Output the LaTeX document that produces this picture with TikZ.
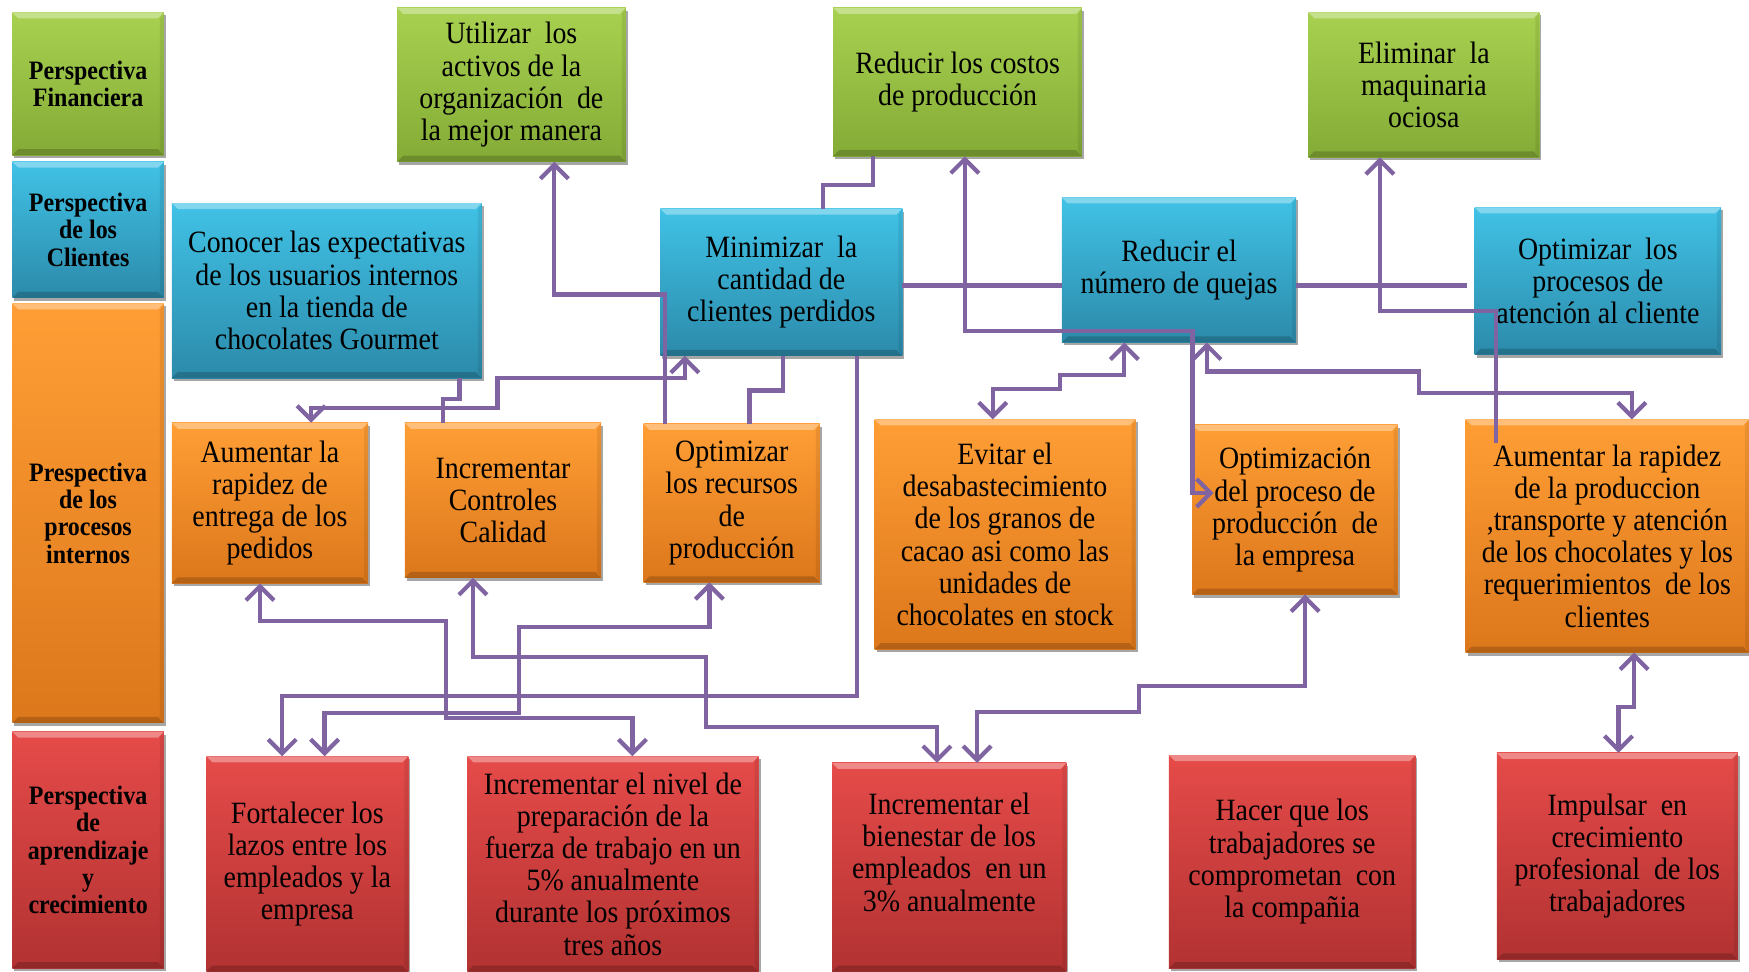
\documentclass[tikz,border=0pt]{standalone}
\usepackage{fontspec}
\setmainfont{Liberation Serif}[FakeStretch=0.9]
\usetikzlibrary{arrows.meta,calc,shadows}

\definecolor{gTop}{HTML}{A8D150}
\definecolor{gBot}{HTML}{84AB36}
\definecolor{bTop}{HTML}{40C2E6}
\definecolor{bBot}{HTML}{2C8AAA}
\definecolor{oTop}{HTML}{FF9E35}
\definecolor{oBot}{HTML}{DC771B}
\definecolor{rTop}{HTML}{E54B49}
\definecolor{rBot}{HTML}{B23232}
\definecolor{conn}{HTML}{8064A2}

% box from its corners: style, x1, y1, x2, y2, name
\newcommand\boxat[6]{\node[#1, minimum width={(#4-#2)*0.5577pt}, minimum height={(#5-#3)*0.5577pt}] (#6) at ({(#2+#4)/2},{(#3+#5)/2})}

\begin{document}
\begin{tikzpicture}[x=0.5577pt,y=-0.5577pt,
  card/.style 2 args={top color=#1, bottom color=#2, draw=none,
    inner sep=0pt, outer sep=0pt, align=center,
    font=\fontsize{15.5}{16.1}\selectfont,
    drop shadow={shadow xshift=1pt, shadow yshift=-1.5pt, opacity=0.35, fill=black},
    path picture={
      \fill[white,opacity=0.35] (path picture bounding box.north west) -- (path picture bounding box.north east)
        -- ([xshift=-3pt,yshift=-3pt]path picture bounding box.north east) -- ([xshift=3pt,yshift=-3pt]path picture bounding box.north west) -- cycle;
      \fill[black,opacity=0.18] (path picture bounding box.south west) -- (path picture bounding box.south east)
        -- ([xshift=-3pt,yshift=3pt]path picture bounding box.south east) -- ([xshift=3pt,yshift=3pt]path picture bounding box.south west) -- cycle;
      \fill[black,opacity=0.08] (path picture bounding box.north east) -- (path picture bounding box.south east)
        -- ([xshift=-2pt,yshift=3pt]path picture bounding box.south east) -- ([xshift=-2pt,yshift=-3pt]path picture bounding box.north east) -- cycle;
    }},
  gbox/.style={card={gTop}{gBot}},
  bbox/.style={card={bTop}{bBot}},
  obox/.style={card={oTop}{oBot}},
  rbox/.style={card={rTop}{rBot}},
  head/.style={font=\bfseries\fontsize{13.3}{13.7}\selectfont},
  txt/.style={inner sep=0pt, align=center, font=\fontsize{15.5}{16.1}\selectfont},
  con/.style={draw=conn, line width=2.1pt},
  arr/.style={con, -{Straight Barb[length=7pt,width=14pt]}},
  dbl/.style={con, {Straight Barb[length=7pt,width=14pt]}-{Straight Barb[length=7pt,width=14pt]}}
]
\fill[white] (0,0) rectangle (1568,871);
\useasboundingbox (0,0) rectangle (1568,871);

% perspective column
\boxat{gbox,head}{11}{11}{147}{139}{fin}{Perspectiva\\Financiera};
\boxat{bbox,head}{11}{145}{147}{267}{cli}{Perspectiva\\de los\\Clientes};
\boxat{obox,head}{11}{272}{147}{648}{pro}{Prespectiva\\de los\\procesos\\internos};
\boxat{rbox,head}{11}{656}{147}{868}{apr}{Perspectiva\\de\\aprendizaje\\y\\crecimiento};

% financial objectives
\boxat{gbox}{356}{7}{561}{145}{util}{Utilizar\ \ los\\activos de la\\organización\ \ de\\la mejor manera};
\boxat{gbox}{747}{7}{970}{140}{costos}{Reducir los costos\\de producción};
\boxat{gbox}{1173}{11}{1380}{141}{elim}{Eliminar\ \ la\\maquinaria\\ociosa};

% customer objectives
\boxat{bbox}{154}{182}{432}{339}{conocer}{Conocer las expectativas\\de los usuarios internos\\en la tienda de\\chocolates Gourmet};
\boxat{bbox}{592}{187}{809}{319}{minim}{Minimizar\ \ la\\cantidad de\\clientes perdidos};
\boxat{bbox}{952}{177}{1162}{307}{quejas}{Reducir el\\número de quejas};
\boxat{bbox}{1322}{186}{1543}{318}{optproc}{Optimizar\ \ los\\procesos de\\atención al cliente};

% internal process objectives
\boxat{obox}{154}{379}{330}{523}{entrega}{Aumentar la\\rapidez de\\entrega de los\\pedidos};
\boxat{obox}{363}{379}{539}{518}{control}{Incrementar\\Controles\\Calidad};
\boxat{obox}{577}{380}{735}{522}{recursos}{Optimizar\\los recursos\\de\\producción};
\boxat{obox}{784}{376}{1018}{582}{evitar}{Evitar el\\desabastecimiento\\de los granos de\\cacao asi como las\\unidades de\\chocolates en stock};
\boxat{obox}{1069}{381}{1253}{533}{optim}{Optimización\\del proceso de\\producción\ \ de\\la empresa};
\boxat{obox}{1314}{376}{1568}{585}{aprod}{Aumentar la rapidez\\de la produccion\\,transporte y atención\\de los chocolates y los\\requerimientos\ \ de los\\clientes};

% learning and growth objectives
\boxat{rbox}{185}{678}{366}{871}{fort}{Fortalecer los\\lazos entre los\\empleados y la\\empresa};
\boxat{rbox}{419}{678}{680}{871}{nivel}{Incrementar el nivel de\\preparación de la\\fuerza de trabajo en un\\5\% anualmente\\durante los próximos\\tres años};
\boxat{rbox}{746}{684}{956}{871}{bien}{};
\node[txt] (bient) at (851,764) {Incrementar el\\bienestar de los\\empleados\ \ en un\\3\% anualmente};
\boxat{rbox}{1048}{677}{1269}{868}{hacer}{Hacer que los\\trabajadores se\\comprometan\ \ con\\la compañia};
\boxat{rbox}{1342}{675}{1558}{860}{impul}{Impulsar\ \ en\\crecimiento\\profesional\ \ de los\\trabajadores};

% helper points for free connector ends
\coordinate (aprodin) at ($(aprod.north west)+(27,21)$);
\coordinate (qend) at ($(optproc.west |- 0,256)+(-7,0)$);
\coordinate (optimin) at ($(optim.west |- 0,442)+(19,0)$);

% connectors
\draw[arr] (596,0 |- recursos.north) -- (596,264) -- (497,264) -- (497,0 |- util.south);
\draw[con] (783,0 |- costos.south) -- (783,166) -- (738,166) -- (738,0 |- minim.north);
\draw[con] (minim.east |- 0,256) -- (quejas.west |- 0,256);
\draw[con] (quejas.east |- 0,256) -- (qend);
\draw[dbl] (865,0 |- costos.south) -- (865,297) -- (1069,297) -- (1069,442) -- (optimin);
\draw[arr] (aprodin) -- (1341,279) -- (1237,279) -- (1237,0 |- elim.south);
\draw[dbl] (1082,0 |- quejas.south) -- (1082,333) -- (1272,333) -- (1272,352) -- (1463,352) -- (1463,0 |- aprod.north);
\draw[dbl] (1008,0 |- quejas.south) -- (1008,336) -- (950,336) -- (950,349) -- (890,349) -- (890,0 |- evitar.north);
\draw[con] (412,0 |- conocer.south) -- (412,358) -- (397,358) -- (397,0 |- control.north);
\draw[dbl] (279,0 |- entrega.north) -- (279,366) -- (446,366) -- (446,339) -- (614,339) -- (614,0 |- minim.south);
\draw[con] (702,0 |- minim.south) -- (702,350) -- (672,350) -- (672,0 |- recursos.north);
\draw[arr] (768,0 |- minim.south) -- (768,624) -- (253,624) -- (253,0 |- fort.north);
\draw[dbl] (233,0 |- entrega.south) -- (233,557) -- (400,557) -- (400,644) -- (567,644) -- (567,0 |- nivel.north);
\draw[dbl] (424,0 |- control.south) -- (424,589) -- (633,589) -- (633,652) -- (840,652) -- (840,0 |- bien.north);
\draw[dbl] (636,0 |- recursos.south) -- (636,562) -- (465,562) -- (465,639) -- (291,639) -- (291,0 |- fort.north);
\draw[dbl] (1170,0 |- optim.south) -- (1170,615) -- (1021,615) -- (1021,638) -- (876,638) -- (876,0 |- bien.north);
\draw[dbl] (1465,0 |- aprod.south) -- (1465,634) -- (1451,634) -- (1451,0 |- impul.north);
\end{tikzpicture}
\end{document}
